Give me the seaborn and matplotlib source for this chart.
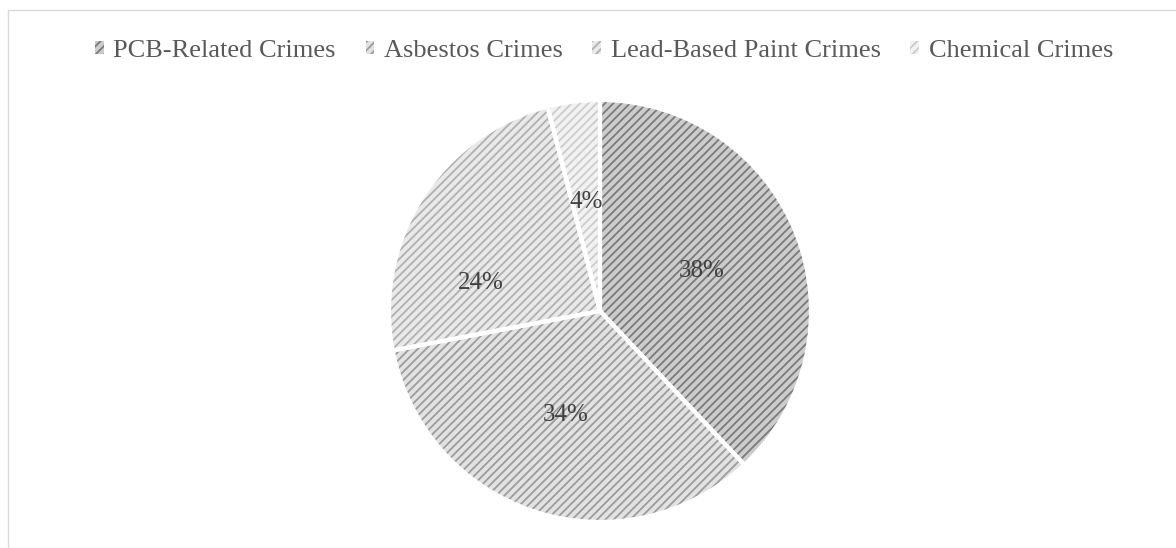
import matplotlib
matplotlib.use("Agg")
import matplotlib.pyplot as plt
import numpy as np
import seaborn as sns
from matplotlib.patches import Rectangle

# Data
crimes = ['PCB-Related Crimes', 'Asbestos Crimes', 'Lead-Based Paint Crimes', 'Chemical Crimes']
shares = [38, 34, 24, 4]

face_cols = ['#cccccc', '#e2e2e2', '#e9e9e9', '#f2f2f2']
hatch_cols = ['#7a7a7a', '#9c9c9c', '#b0b0b0', '#cccccc']

sns.set_theme(style="white")
plt.rcParams['font.family'] = ['Liberation Serif', 'DejaVu Serif']
plt.rcParams['hatch.linewidth'] = 1.3

fig = plt.figure(figsize=(11.76, 5.48), dpi=100)

# chart border (light gray frame, cut off at right/bottom)
fig.patches.append(Rectangle((8 / 1176, -0.1), 1.2, 1.1 - 10 / 548,
                             transform=fig.transFigure, fill=False,
                             edgecolor='#d9d9d9', linewidth=1))

ax = fig.add_axes([(600 - 211) / 1176, 26 / 548, 422 / 1176, 422 / 548])

wedges, texts, autotexts = ax.pie(
    shares, startangle=90, counterclock=False, colors=face_cols,
    autopct='%1.0f%%', pctdistance=0.52,
    wedgeprops=dict(linewidth=0),
    textprops=dict(fontsize=18, color='#404040'))
for w, hc in zip(wedges, hatch_cols):
    w.set_hatch('////')
    w.set_edgecolor(hc)

# Excel nudges the 24% label towards the wider part of its slice
ang = np.deg2rad(wedges[2].theta1 + 0.72 * (wedges[2].theta2 - wedges[2].theta1))
autotexts[2].set_position((0.58 * np.cos(ang), 0.58 * np.sin(ang)))

# white separators
ax.pie(shares, startangle=90, counterclock=False,
       colors=['none'] * len(shares),
       wedgeprops=dict(linewidth=3, edgecolor='white', fill=False))

ax.set_xlim(-1, 1)
ax.set_ylim(-1, 1)
ax.set_aspect('equal')
ax.axis('off')

fig.legend(wedges, crimes, loc='center', bbox_to_anchor=(604 / 1176, 1 - 51 / 548),
           ncol=4, frameon=False, fontsize=19, handlelength=0.34, handleheight=0.34,
           handletextpad=0.35, columnspacing=1.13, labelcolor='#595959')

fig.savefig('out.png', dpi=100, facecolor='white')
